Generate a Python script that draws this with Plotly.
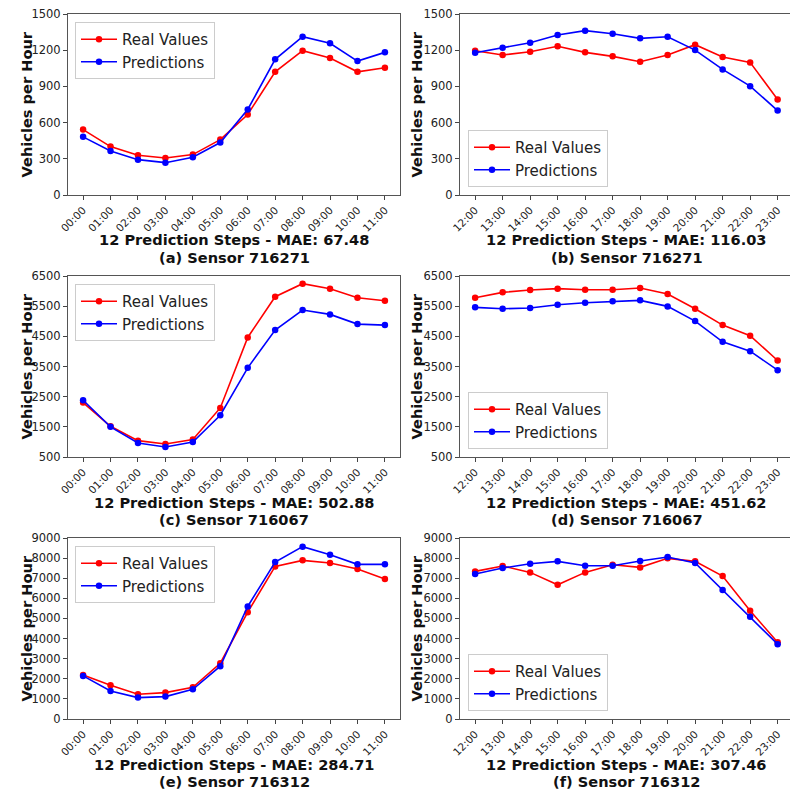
import plotly.graph_objects as go

hours_am = ["00:00", "01:00", "02:00", "03:00", "04:00", "05:00",
            "06:00", "07:00", "08:00", "09:00", "10:00", "11:00"]
hours_pm = ["12:00", "13:00", "14:00", "15:00", "16:00", "17:00",
            "18:00", "19:00", "20:00", "21:00", "22:00", "23:00"]

real_a = [542, 401, 329, 307, 335, 459, 667, 1021, 1196, 1135, 1021, 1055]
pred_a = [482, 365, 293, 268, 313, 435, 709, 1124, 1312, 1257, 1110, 1182]
real_b = [1196, 1160, 1187, 1232, 1182, 1149, 1104, 1160, 1246, 1143, 1099, 792]
pred_b = [1179, 1221, 1262, 1326, 1362, 1337, 1298, 1312, 1201, 1041, 902, 700]
real_c = [2304, 1518, 1042, 932, 1076, 2127, 4463, 5814, 6246, 6080, 5781, 5681]
pred_c = [2382, 1500, 965, 832, 998, 1884, 3456, 4707, 5371, 5227, 4906, 4873]
real_d = [5781, 5958, 6035, 6080, 6046, 6046, 6102, 5902, 5415, 4873, 4519, 3699]
pred_d = [5460, 5415, 5437, 5548, 5614, 5659, 5692, 5493, 5006, 4319, 4009, 3378]
real_e = [2192, 1677, 1229, 1312, 1578, 2773, 5314, 7589, 7888, 7755, 7456, 6958]
pred_e = [2142, 1395, 1063, 1113, 1478, 2624, 5596, 7805, 8569, 8170, 7689, 7689]
real_f = [7340, 7605, 7290, 6675, 7290, 7672, 7539, 7988, 7838, 7107, 5380, 3819]
pred_f = [7207, 7506, 7722, 7838, 7622, 7622, 7855, 8054, 7755, 6410, 5081, 3720]

mae_labels = ["67.48", "116.03", "502.88", "451.62", "284.71", "307.46"]
sensor_labels = ["(a) Sensor 716271", "(b) Sensor 716271", "(c) Sensor 716067",
                 "(d) Sensor 716067", "(e) Sensor 716312", "(f) Sensor 716312"]
y_ranges = [(0, 1500, 300), (0, 1500, 300), (500, 6500, 1000),
            (500, 6500, 1000), (0, 9000, 1000), (0, 9000, 1000)]

W, H = 790, 789
panels = [
    (hours_am, real_a, pred_a), (hours_pm, real_b, pred_b),
    (hours_am, real_c, pred_c), (hours_pm, real_d, pred_d),
    (hours_am, real_e, pred_e), (hours_pm, real_f, pred_f),
]
row_tops = [14, 276, 538]
row_h = 181
col_boxes = [(68, 400), (460, 790)]

fig = go.Figure()
layout = dict(width=W, height=H, margin=dict(l=0, r=0, t=0, b=0, autoexpand=False),
              paper_bgcolor="white", plot_bgcolor="white", showlegend=True,
              font=dict(family="DejaVu Sans", color="#222"))
annotations = []
for i, (cats, real, pred) in enumerate(panels):
    r, c = divmod(i, 2)
    x0, x1 = col_boxes[c]
    top = row_tops[r]
    bot = top + row_h
    n = i + 1
    xa = "x" if n == 1 else f"x{n}"
    ya = "y" if n == 1 else f"y{n}"
    lg = "legend" if n == 1 else f"legend{n}"
    xpos = list(range(len(cats)))
    fig.add_trace(go.Scatter(x=xpos, y=real, name="Real Values", mode="lines+markers",
                             line=dict(color="#ff0000", width=1.6),
                             marker=dict(color="#ff0000", size=6.5),
                             xaxis=xa, yaxis=ya, legend=lg))
    fig.add_trace(go.Scatter(x=xpos, y=pred, name="Predictions", mode="lines+markers",
                             line=dict(color="#0000ff", width=1.6),
                             marker=dict(color="#0000ff", size=6.5),
                             xaxis=xa, yaxis=ya, legend=lg))
    xrange = [-0.55, 11.55] if c == 0 else [-0.55, 11.45]
    layout["xaxis" if n == 1 else f"xaxis{n}"] = dict(
        domain=[x0 / W, x1 / W], anchor=ya, range=xrange, automargin=False,
        tickmode="array", tickvals=xpos, ticktext=cats, tickangle=-45,
        ticks="outside", ticklen=4, tickcolor="#444",
        tickfont=dict(size=10.5, color="#222"),
        showline=True, linecolor="#555", linewidth=1, mirror=True,
        showgrid=False, zeroline=False)
    ymin, ymax, dt = y_ranges[i]
    layout["yaxis" if n == 1 else f"yaxis{n}"] = dict(
        domain=[1 - bot / H, 1 - top / H], anchor=xa, range=[ymin, ymax], automargin=False,
        tick0=ymin, dtick=dt, ticks="outside", ticklen=4, tickcolor="#444",
        tickfont=dict(size=11.5, color="#222"),
        showline=True, linecolor="#555", linewidth=1, mirror=(c == 0),
        showgrid=False, zeroline=False)
    if c == 0:
        lgd = dict(x=75 / W, y=1 - (top + 8) / H, xanchor="left", yanchor="top")
    else:
        lgd = dict(x=468 / W, y=1 - (bot - 8) / H, xanchor="left", yanchor="bottom")
    lgd.update(bgcolor="rgba(255,255,255,0.85)", bordercolor="#cccccc", borderwidth=1,
               font=dict(size=15, color="#222"), itemwidth=36, tracegroupgap=0)
    layout[lg] = lgd
    cx = (x0 + (x1 + 3 if c == 1 else x1)) / 2
    annotations.append(dict(x=cx / W, y=1 - (bot + 45) / H, xref="paper", yref="paper",
                            text=f"12 Prediction Steps - MAE: {mae_labels[i]}",
                            showarrow=False, font=dict(size=14.6, color="#111", weight="bold"),
                            xanchor="center", yanchor="middle"))
    annotations.append(dict(x=cx / W, y=1 - (bot + 62) / H, xref="paper", yref="paper",
                            text=sensor_labels[i],
                            showarrow=False, font=dict(size=14.6, color="#111", weight="bold"),
                            xanchor="center", yanchor="middle"))
    ytx = 26 if c == 0 else 416
    annotations.append(dict(x=ytx / W, y=1 - (top + row_h / 2) / H, xref="paper", yref="paper",
                            text="Vehicles per Hour", textangle=-90,
                            showarrow=False, font=dict(size=14.6, color="#111", weight="bold"),
                            xanchor="center", yanchor="middle"))

layout["annotations"] = annotations
fig.update_layout(**layout)
fig.write_html("out.html")
